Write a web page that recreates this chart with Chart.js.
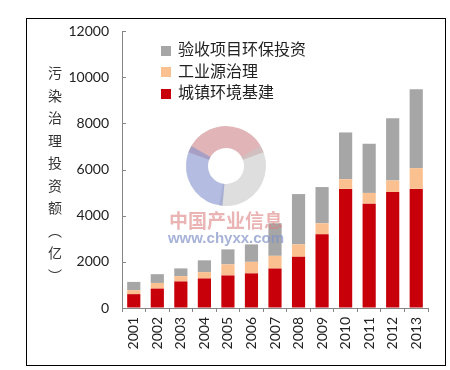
<!DOCTYPE html>
<html>
<head>
<meta charset="utf-8">
<script src="https://cdn.jsdelivr.net/npm/chart.js@4.4.0/dist/chart.umd.min.js"></script>
<style>
  html, body { margin: 0; padding: 0; background: #fff; }
  #wrap   { position: relative; width: 450px; height: 370px; overflow: hidden; }
  #frame  { position: absolute; left: 26px; top: 18px; width: 418px; height: 346px; border: 1px solid #000; }
  canvas  { position: absolute; left: 0; top: 0; }
  #ytitle { position: absolute; left: 45px; top: 66px; writing-mode: vertical-rl;
            font: 14px "Noto Sans CJK SC"; letter-spacing: 8.5px; color: #333; }
  #legend { position: absolute; left: 161px; top: 38px; font: 16px "Noto Sans CJK SC"; color: #222; }
  #legend div { height: 21.5px; line-height: 21.5px; white-space: nowrap; }
  #legend span { display: inline-block; width: 10px; height: 10px; margin-right: 7px; vertical-align: -0.5px; }
  .wm     { position: absolute; width: 160px; left: 146px; text-align: center; }
  #wm1    { top: 206px; font: bold 19px "Noto Sans CJK SC"; color: rgba(222,130,130,0.6); }
  #wm2    { top: 229px; font: bold 15px "Liberation Sans"; color: rgba(130,145,200,0.7); }
</style>
</head>
<body>
<div id="wrap">
  <div id="frame"></div>
  <canvas id="chart" width="450" height="370"></canvas>
  <div id="ytitle">污染治理投资额（亿）</div>
  <div id="legend"></div>
  <div class="wm" id="wm1">中国产业信息</div>
  <div class="wm" id="wm2">www.chyxx.com</div>
</div>
<script>
/* ── Data ── */
const YEARS    = ['2001', '2002', '2003', '2004', '2005', '2006', '2007',
                  '2008', '2009', '2010', '2011', '2012', '2013'];
const URBAN    = [600, 840, 1150, 1280, 1410, 1500, 1710, 2220, 3190, 5160, 4520, 5020, 5160];
const INDUSTRY = [170, 245, 230, 275, 480, 500, 550, 540, 480, 420, 465, 505, 900];
const ACCEPT   = [360, 380, 335, 510, 650, 755, 1410, 2175, 1570, 2025, 2130, 2695, 3420];
const Y_MAX    = 12000;
const Y_STEP   = 2000;

/* ── Constants ── */
const SERIES_NAMES  = ['城镇环境基建', '工业源治理', '验收项目环保投资'];
const SERIES_COLORS = ['#c8000a', '#fac090', '#a6a6a6'];
const AXIS_COLOR    = '#868686';
const TICK_FONT     = { family: 'Lato', size: 14 };
const TICK_COLOR    = '#222';

/* ── Watermark ring (behind the bars) ── */
const watermarkRing = {
  id: 'watermarkRing',
  beforeDatasetsDraw(chart) {
    const ctx = chart.ctx;
    const arcs = [
      ['rgba(205,130,135,0.6)', 200, 340],
      ['rgba(200,200,200,0.6)', 330, 460],
      ['rgba(130,145,205,0.6)', 95, 210],
    ];
    ctx.save();
    ctx.lineWidth = 22;
    arcs.forEach(([c, a0, a1]) => {
      ctx.strokeStyle = c;
      ctx.beginPath();
      ctx.arc(226, 166, 29, a0 * Math.PI / 180, a1 * Math.PI / 180);
      ctx.stroke();
    });
    ctx.restore();
  },
};

/* ── Inward y ticks ── */
const innerTicks = {
  id: 'innerTicks',
  afterDatasetsDraw(chart) {
    const { ctx, scales: { y } } = chart;
    ctx.save();
    ctx.strokeStyle = AXIS_COLOR;
    ctx.lineWidth = 1;
    y.ticks.forEach(t => {
      const py = Math.round(y.getPixelForValue(t.value)) + 0.5;
      ctx.beginPath();
      ctx.moveTo(y.right, py);
      ctx.lineTo(y.right + 4, py);
      ctx.stroke();
    });
    ctx.restore();
  },
};

const chart = new Chart(document.getElementById('chart'), {
  type: 'bar',
  data: {
    labels: YEARS,
    datasets: [URBAN, INDUSTRY, ACCEPT].map((data, i) => ({
      label:           SERIES_NAMES[i],
      data,
      backgroundColor: SERIES_COLORS[i],
      borderWidth:     0,
    })),
  },
  options: {
    responsive:         false,
    animation:          false,
    barPercentage:      0.56,
    categoryPercentage: 1,
    layout: { padding: { top: 31, right: 22, left: 0, bottom: 0 } },
    plugins: {
      legend:  { display: false },
      tooltip: { enabled: false },
    },
    scales: {
      x: {
        stacked: true,
        grid:    { drawOnChartArea: false, tickLength: 4, color: AXIS_COLOR, offset: true },
        border:  { color: AXIS_COLOR },
        ticks:   { minRotation: 90, maxRotation: 90, padding: 5, font: TICK_FONT, color: TICK_COLOR },
        afterFit: s => { s.height = 62; },
      },
      y: {
        stacked: true,
        min: 0,
        max: Y_MAX,
        grid:    { drawOnChartArea: false, drawTicks: false },
        border:  { color: AXIS_COLOR },
        ticks:   {
          stepSize: Y_STEP,
          padding:  13,
          font:     TICK_FONT,
          color:    TICK_COLOR,
          callback: v => String(v),
        },
        afterFit: s => { s.width = 122; },
      },
    },
  },
  plugins: [watermarkRing, innerTicks],
});

/* ── Legend (top series first) ── */
const legend = document.getElementById('legend');
chart.data.datasets.slice().reverse().forEach(ds => {
  const row = document.createElement('div');
  const box = document.createElement('span');
  box.style.background = ds.backgroundColor;
  row.appendChild(box);
  row.appendChild(document.createTextNode(ds.label));
  legend.appendChild(row);
});
</script>
</body>
</html>
